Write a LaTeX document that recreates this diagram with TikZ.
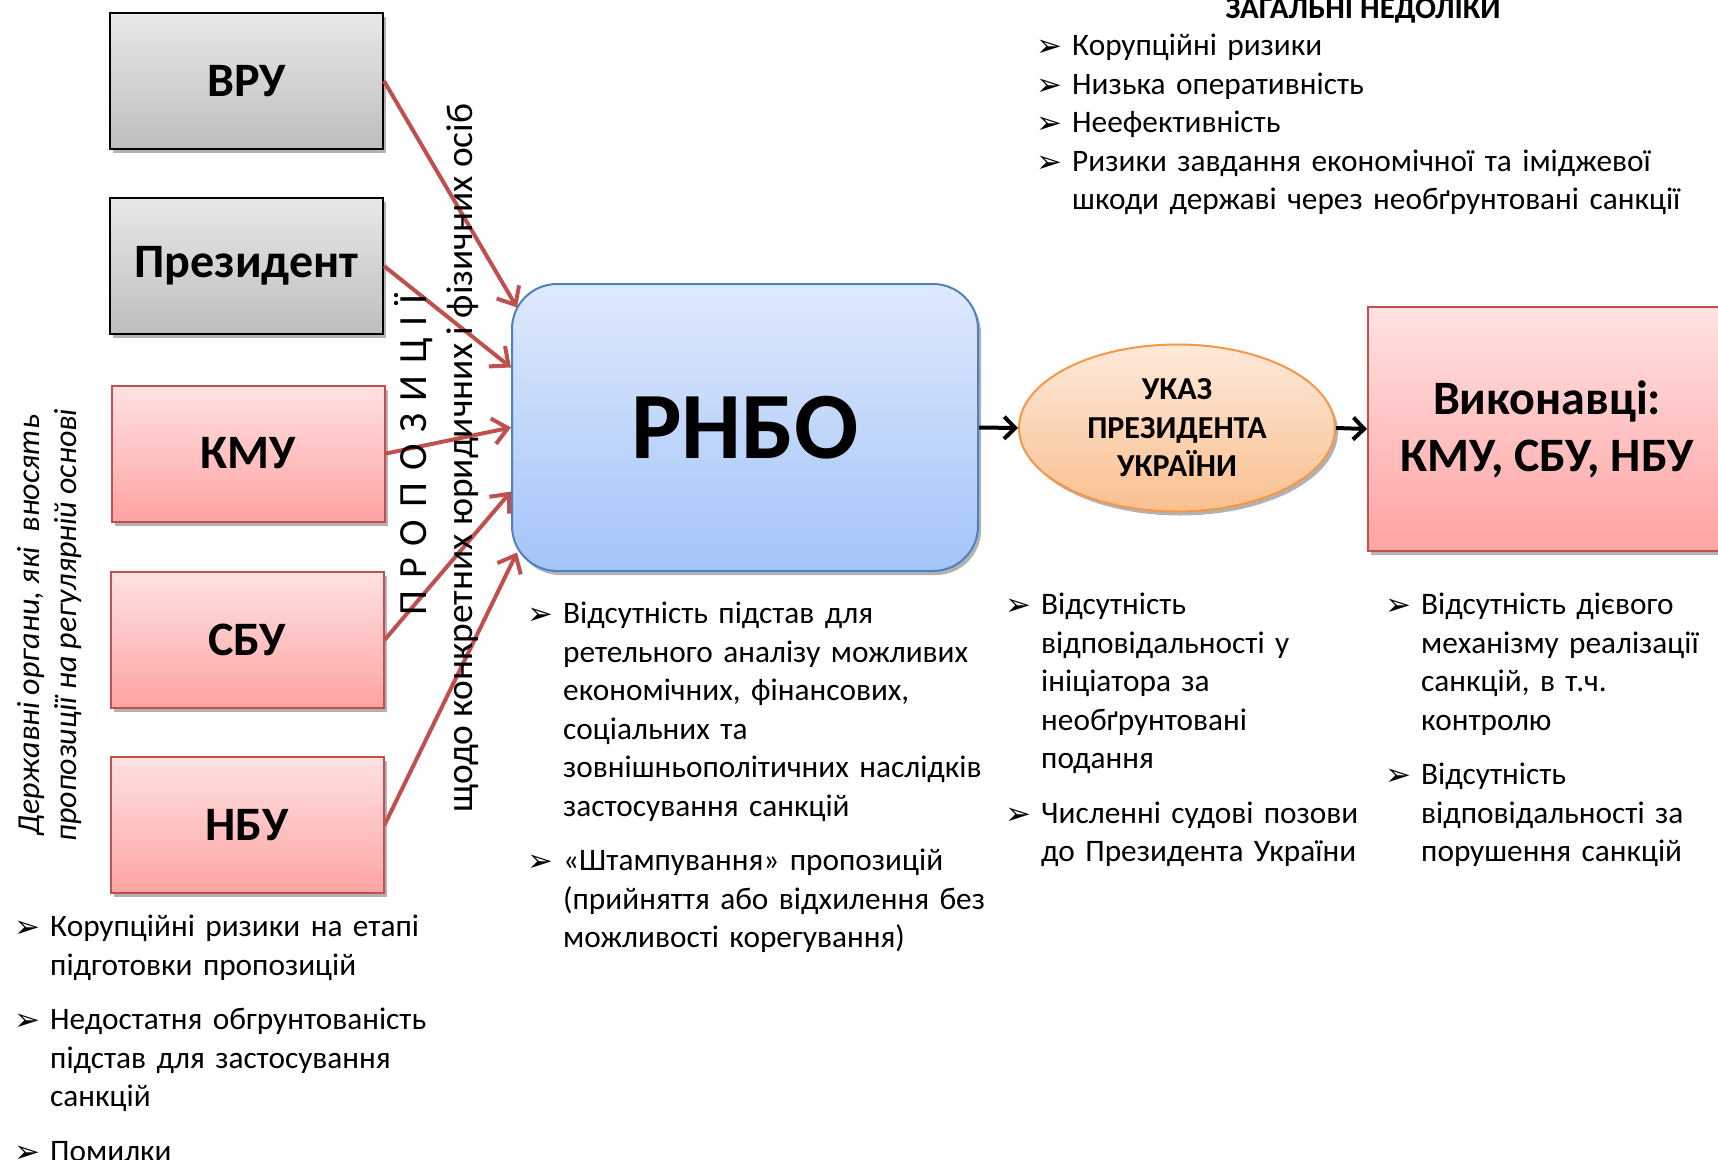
\documentclass[tikz,border=0pt]{standalone}
\usepackage{fontspec}
\setmainfont{Carlito}
\newfontfamily\arrowfont{DejaVu Sans}
\usetikzlibrary{arrows.meta,shapes.geometric,shadows}
\definecolor{redln}{HTML}{C0504D}
\definecolor{blueln}{HTML}{4F81BD}
\definecolor{orangeln}{HTML}{F79646}
\newcommand{\fstrut}{\rule{0pt}{24pt}}
\newcommand{\bul}{\makebox[34pt][l]{\hspace{-2pt}\raisebox{-1pt}{\arrowfont\fontsize{31}{31}\selectfont ➢}}}
\newcommand{\bitem}{\par\hangindent=34pt\hangafter=1\noindent\bul\fstrut}
\newcommand{\nl}{\break}
\tikzset{
  boxshadow/.style={drop shadow={shadow xshift=3pt,shadow yshift=-4pt,opacity=0.3,fill=black}},
  graybox/.style={draw=black, line width=2pt, top color={rgb,255:red,232;green,232;blue,232}, bottom color={rgb,255:red,190;green,190;blue,190},
    minimum width=273pt, minimum height=136pt, inner sep=0pt,
    font=\fontsize{48}{48}\selectfont\bfseries, boxshadow},
  redbox/.style={draw=redln, line width=2pt, top color={rgb,255:red,255;green,226;blue,226}, bottom color={rgb,255:red,255;green,163;blue,163},
    minimum width=273pt, minimum height=136pt, inner sep=0pt,
    font=\fontsize{48}{48}\selectfont\bfseries, boxshadow},
  redarrow/.style={draw=redln, line width=4pt, -{Straight Barb[length=15pt,width=26pt]}},
  blackarrow/.style={draw=black, line width=4pt, -{Straight Barb[length=11pt,width=22pt]}},
  blist/.style={anchor=north west, inner sep=0pt, text width=680pt,
    font=\fontsize{31.3}{38.5}\selectfont\raggedright},
  blistgap/.style={blist, font=\fontsize{31.3}{38.5}\selectfont\raggedright\setlength{\parskip}{16pt}},
}
\begin{document}
\begin{tikzpicture}[x=1pt,y=-1pt]
\useasboundingbox (0,0) rectangle (1718,1159);

% source boxes
\node[graybox] (vru)   at (246.5,81)  {ВРУ};
\node[graybox] (pres)  at (246.5,266) {Президент};
\node[redbox]  (kmu)   at (248.5,453.5) {КМУ};
\node[redbox]  (sbu)   at (247,640) {СБУ};
\node[redbox]  (nbu)   at (247,825) {НБУ};

% RNBO
\node[draw=blueln, line width=2pt, rounded corners=45pt,
  top color={rgb,255:red,222;green,233;blue,252}, bottom color={rgb,255:red,164;green,196;blue,248},
  minimum width=466pt, minimum height=287pt, inner sep=0pt, boxshadow,
  font=\fontsize{95}{95}\selectfont\bfseries] (rnbo) at (745,427.5) {РНБО};

% Decree ellipse
\node[ellipse, draw=orangeln, line width=2pt, top color={rgb,255:red,253;green,234;blue,218}, bottom color={rgb,255:red,250;green,191;blue,143},
  minimum width=316pt, minimum height=167pt, inner sep=0pt, boxshadow, align=center,
  font=\fontsize{32}{38.5}\selectfont\bfseries] (ukaz) at (1177,428) {УКАЗ\\ПРЕЗИДЕНТА\\УКРАЇНИ};

% Executors
\node[draw=redln, line width=2pt, top color={rgb,255:red,255;green,226;blue,226}, bottom color={rgb,255:red,255;green,163;blue,163},
  minimum width=358pt, minimum height=244pt, inner sep=0pt, boxshadow, align=center,
  font=\fontsize{48}{57}\selectfont\bfseries] (exec) at (1547,429) {Виконавці:\\КМУ, СБУ, НБУ};

% arrows into RNBO
\coordinate (in1) at ([xshift=6pt,yshift=120pt]rnbo.west);
\coordinate (in2) at ([yshift=60pt]rnbo.west);
\coordinate (in3) at (rnbo.west);
\coordinate (in4) at ([yshift=-64pt]rnbo.west);
\coordinate (in5) at ([xshift=6pt,yshift=-125pt]rnbo.west);
\draw[redarrow] (vru.east) -- (in1);
\draw[redarrow] (pres.east) -- (in2);
\draw[redarrow] (kmu.east) -- (in3);
\draw[redarrow] (sbu.east) -- (in4);
\draw[redarrow] (nbu.east) -- (in5);

\draw[blackarrow] (rnbo.east) -- (ukaz.west);
\draw[blackarrow] (ukaz.east) -- (exec.west);

% vertical texts
\node[rotate=90, align=center, font=\fontsize{32}{37}\selectfont\itshape] (organs) at (50,625)
  {Державні органи, які\ \ вносять\\пропозиції на регулярній основі};
\node[rotate=90, font=\fontsize{40}{40}\selectfont] (prop) at (414,455)
  {П\hspace{12pt}Р\hspace{12pt}О\hspace{12pt}П\hspace{12pt}О\hspace{12pt}З\hspace{12pt}И\hspace{12pt}Ц\hspace{12pt}І\hspace{12pt}Ї};
\node[rotate=90, font=\fontsize{37.4}{37.4}\selectfont] (whom) at (463,458)
  {щодо конкретних юридичних і фізичних осіб};

% general drawbacks
\node[font=\fontsize{31}{31}\selectfont\bfseries, anchor=base] (gen) at (1363,18) {ЗАГАЛЬНІ НЕДОЛІКИ};
\node[blist] (l1) at (1038,17) {\bitem Корупційні ризики
  \bitem Низька оперативність
  \bitem Неефективність
  \bitem Ризики завдання економічної та іміджевої\nl шкоди державі через необґрунтовані санкції\par};

% left list
\node[blistgap] (l2) at (16,882) {\bitem Корупційні ризики на етапі\nl підготовки пропозицій
  \bitem Недостатня обгрунтованість\nl підстав для застосування\nl санкцій
  \bitem Помилки\par};

% center list
\node[blistgap] (l3) at (529,569) {\bitem Відсутність підстав для\nl ретельного аналізу можливих\nl економічних, фінансових,\nl соціальних та\nl зовнішньополітичних наслідків\nl застосування санкцій
  \bitem «Штампування» пропозицій\nl (прийняття або відхилення без\nl можливості корегування)\par};

% third list
\node[blistgap] (l4) at (1007,560) {\bitem Відсутність\nl відповідальності у\nl ініціатора за\nl необґрунтовані\nl подання
  \bitem Численні судові позови\nl до Президента України\par};

% fourth list
\node[blistgap] (l5) at (1387,560) {\bitem Відсутність дієвого\nl механізму реалізації\nl санкцій, в т.ч.\nl контролю
  \bitem Відсутність\nl відповідальності за\nl порушення санкцій\par};
\end{tikzpicture}
\end{document}
